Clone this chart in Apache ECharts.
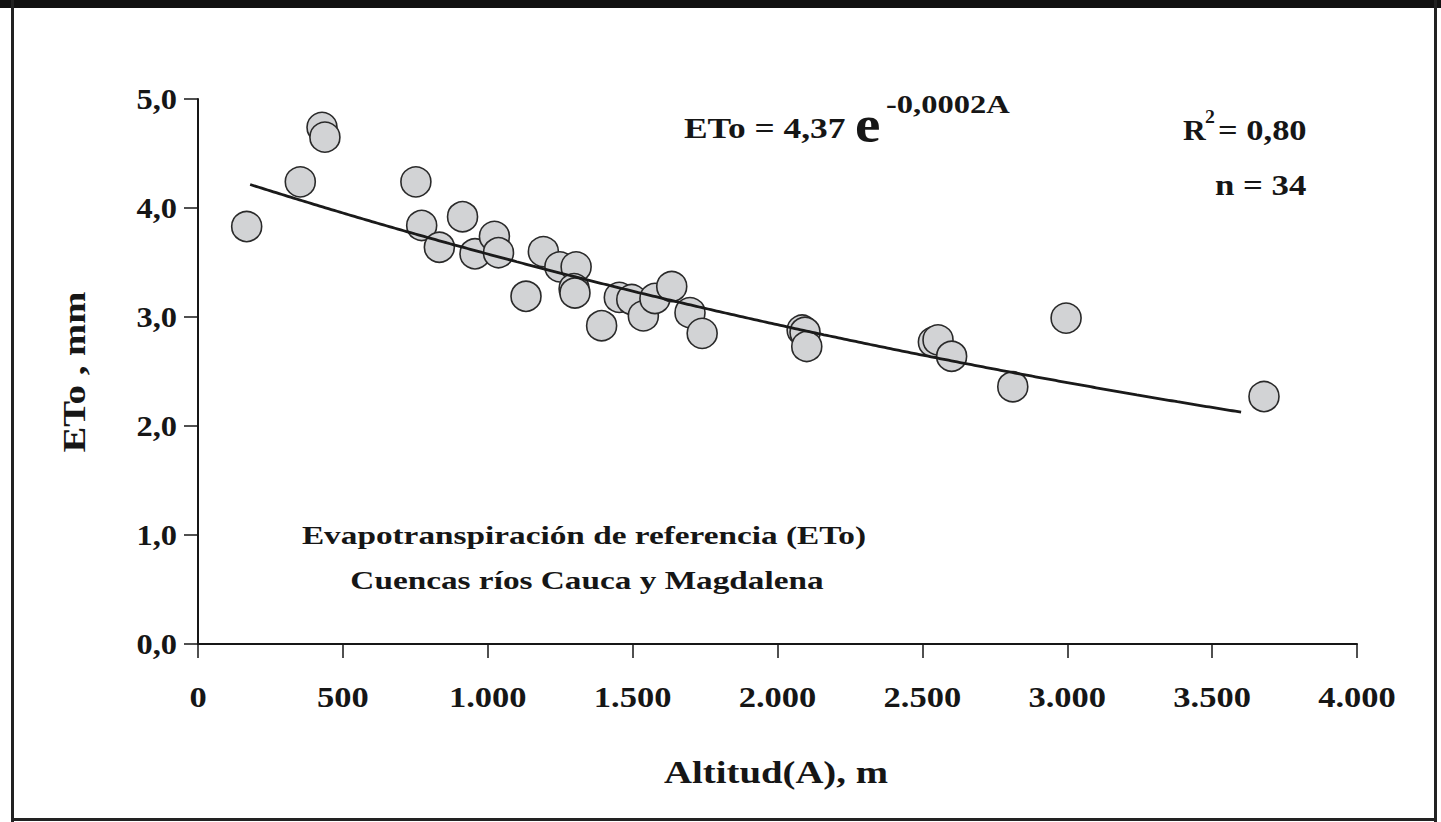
<!DOCTYPE html>
<html>
<head>
<meta charset="utf-8">
<script src="https://cdn.jsdelivr.net/npm/echarts@6/dist/echarts.min.js"></script>
<style>
  html, body { margin: 0; padding: 0; background: #fff; }
  #chart { width: 1441px; height: 822px; }
</style>
</head>
<body>
<div id="chart"></div>
<script>
// Weather stations: altitude (m) and reference evapotranspiration ETo (mm/day)
const altitude = [168, 353, 428, 438, 752, 772, 833, 913, 956, 1023, 1037, 1132, 1192, 1249, 1305, 1298, 1301,
  1393, 1454, 1497, 1537, 1577, 1635, 1698, 1740, 2085, 2095, 2101, 2538, 2554, 2601, 2812, 2996, 3679];
const eto = [3.83, 4.24, 4.74, 4.65, 4.24, 3.84, 3.64, 3.92, 3.58, 3.74, 3.59, 3.19, 3.60, 3.46, 3.46, 3.26, 3.22,
  2.92, 3.18, 3.16, 3.01, 3.17, 3.28, 3.04, 2.85, 2.88, 2.86, 2.73, 2.77, 2.79, 2.64, 2.36, 2.99, 2.27];

// Axis ticks
const xTicks = [0, 500, 1000, 1500, 2000, 2500, 3000, 3500, 4000];
const yTicks = [0, 1, 2, 3, 4, 5];

// Exponential fit ETo = a * e^(b * A), drawn over the altitude span it covers
const fitA = 4.37;
const fitB = -0.0002;
const fitFrom = 180;
const fitTo = 3600;
const fitStep = 20;

const FONT = '"Liberation Serif", "Times New Roman", serif';
const INK = '#161616';

const fitCurve = [];
for (let a = fitFrom; a <= fitTo; a += fitStep) {
  fitCurve.push([a, fitA * Math.exp(fitB * a)]);
}

const fmtX = v => v >= 1000 ? Math.floor(v / 1000) + '.' + String(v % 1000).padStart(3, '0') : String(v);
const fmtY = v => v.toFixed(1).replace('.', ',');

const chart = echarts.init(document.getElementById('chart'), null, { renderer: 'svg' });

const option = {
  backgroundColor: '#fff',
  animation: false,
  grid: { left: 198, top: 99, width: 1159, height: 545 },
  xAxis: {
    type: 'value', min: 0, max: 4000, interval: 500,
    axisLine: { show: true, onZero: false, lineStyle: { color: INK, width: 2 } },
    axisTick: { show: true, inside: false, length: 14, lineStyle: { color: INK, width: 1.5 } },
    axisLabel: { show: false },
    splitLine: { show: false }
  },
  yAxis: {
    type: 'value', min: 0, max: 5, interval: 1,
    axisLine: { show: true, onZero: false, lineStyle: { color: INK, width: 2 } },
    axisTick: { show: true, inside: false, length: 14, lineStyle: { color: INK, width: 1.5 } },
    axisLabel: { show: false },
    splitLine: { show: false }
  },
  series: [
    {
      type: 'scatter',
      data: altitude.map((a, i) => [a, eto[i]]),
      symbol: 'circle',
      symbolSize: 30,
      itemStyle: { color: '#d2d3d5', borderColor: '#2a2a2a', borderWidth: 1.6, opacity: 1 },
      z: 2
    },
    {
      type: 'line',
      data: fitCurve,
      showSymbol: false,
      smooth: true,
      lineStyle: { color: '#1a1a1a', width: 2.8 },
      z: 3
    }
  ]
};

chart.setOption(option);

function txt(text, x, y, size, stretch, align, extra) {
  return Object.assign({
    type: 'text', x: x, y: y, scaleX: stretch, z: 10,
    style: { text: text, font: 'bold ' + size + 'px ' + FONT, fill: INK, align: align || 'left', verticalAlign: 'middle' }
  }, extra || {});
}

const graphics = [];

// Page frame: dark top band and thin border
graphics.push({ type: 'rect', shape: { x: 0, y: 0, width: 1441, height: 8 }, style: { fill: '#111' }, z: 20 });
graphics.push({ type: 'rect', shape: { x: 11, y: 0, width: 3, height: 822 }, style: { fill: '#222' }, z: 20 });
graphics.push({ type: 'rect', shape: { x: 1434, y: 0, width: 3, height: 822 }, style: { fill: '#222' }, z: 20 });
graphics.push({ type: 'rect', shape: { x: 11, y: 818, width: 1426, height: 3 }, style: { fill: '#222' }, z: 20 });

// Tick labels positioned through the axis scales
xTicks.forEach(v => {
  const p = chart.convertToPixel({ gridIndex: 0 }, [v, 0]);
  graphics.push(txt(fmtX(v), p[0], p[1] + 53, 30, 1.15, 'center'));
});
yTicks.forEach(v => {
  const p = chart.convertToPixel({ gridIndex: 0 }, [0, v]);
  graphics.push(txt(fmtY(v), p[0] - 21, p[1], 30, 1.08, 'right'));
});

// Axis titles
graphics.push(txt('Altitud(A), m', 776, 773, 31, 1.25, 'center'));
graphics.push(txt('ETo , mm', 75, 372, 31, 1.25, 'center', { rotation: Math.PI / 2 }));

// Regression equation and statistics
graphics.push(txt('ETo = 4,37', 684, 128, 30, 1.18));
graphics.push(txt('e', 855, 124, 52, 1.1));
graphics.push(txt('-0,0002A', 886, 104, 26, 1.25));
graphics.push(txt('R', 1183, 130, 30, 1.05));
graphics.push(txt('2', 1205, 117, 18, 1.1));
graphics.push(txt('= 0,80', 1218, 130, 30, 1.15));
graphics.push(txt('n = 34', 1215, 185, 29, 1.2));

// Caption inside the plot
graphics.push(txt('Evapotranspiración de referencia (ETo)', 584, 535, 26, 1.28, 'center'));
graphics.push(txt('Cuencas ríos Cauca y Magdalena', 587, 580, 26, 1.28, 'center'));

chart.setOption({ graphic: graphics });
</script>
</body>
</html>
